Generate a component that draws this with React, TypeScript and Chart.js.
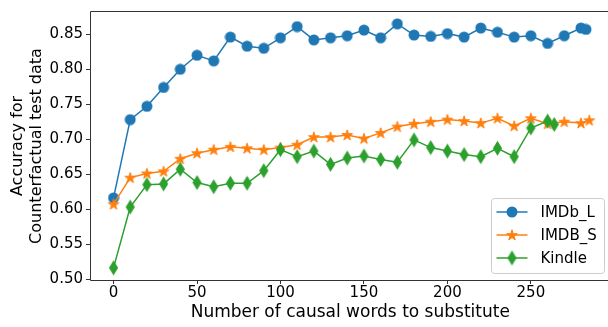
import React, { useEffect, useRef } from 'react';
import { Chart, registerables } from 'chart.js';
Chart.register(...registerables);

const imdbLX = [0, 10, 20, 30, 40, 50, 60, 70, 80, 90, 100, 110, 120, 130, 140, 150, 160, 170, 180, 190, 200, 210, 220, 230, 240, 250, 260, 270, 280, 283];
const imdbL = [0.616, 0.728, 0.747, 0.774, 0.800, 0.820, 0.812, 0.846, 0.833, 0.830, 0.845, 0.861, 0.842, 0.845, 0.848, 0.856, 0.845, 0.865, 0.849, 0.847, 0.851, 0.846, 0.859, 0.853, 0.846, 0.848, 0.837, 0.848, 0.859, 0.857];

const imdbSX = [0, 10, 20, 30, 40, 50, 60, 70, 80, 90, 100, 110, 120, 130, 140, 150, 160, 170, 180, 190, 200, 210, 220, 230, 240, 250, 260, 270, 280, 285];
const imdbS = [0.607, 0.645, 0.651, 0.654, 0.672, 0.680, 0.685, 0.689, 0.687, 0.685, 0.688, 0.692, 0.703, 0.703, 0.706, 0.701, 0.709, 0.718, 0.722, 0.725, 0.728, 0.726, 0.723, 0.730, 0.719, 0.730, 0.722, 0.725, 0.723, 0.727];

const kindleX = [0, 10, 20, 30, 40, 50, 60, 70, 80, 90, 100, 110, 120, 130, 140, 150, 160, 170, 180, 190, 200, 210, 220, 230, 240, 250, 260, 264];
const kindle = [0.516, 0.603, 0.635, 0.636, 0.657, 0.638, 0.632, 0.637, 0.637, 0.655, 0.685, 0.675, 0.683, 0.664, 0.673, 0.676, 0.671, 0.667, 0.699, 0.688, 0.683, 0.678, 0.675, 0.687, 0.675, 0.716, 0.726, 0.721];

const seriesNames = ['IMDb_L', 'IMDB_S', 'Kindle'];
const xTicks = [0, 50, 100, 150, 200, 250];
const yTicks = [0.5, 0.55, 0.6, 0.65, 0.7, 0.75, 0.8, 0.85];

const BLUE = '#1f77b4';
const ORANGE = '#ff7f0e';
const GREEN = '#2ca02c';
const FONT = 'DejaVu Sans';

function makeCircle(color: string) {
  const c = document.createElement('canvas');
  c.width = 12; c.height = 12;
  const g = c.getContext('2d')!;
  g.fillStyle = color;
  g.beginPath();
  g.arc(6, 6, 5.5, 0, Math.PI * 2);
  g.fill();
  return c;
}

function makeStar(color: string) {
  const c = document.createElement('canvas');
  c.width = 14; c.height = 14;
  const g = c.getContext('2d')!;
  const cx = 7, cy = 7.4, R = 5.6, r = R * 0.382;
  g.beginPath();
  for (let i = 0; i < 10; i++) {
    const rad = i % 2 === 0 ? R : r;
    const ang = -Math.PI / 2 + (i * Math.PI) / 5;
    const px = cx + rad * Math.cos(ang);
    const py = cy + rad * Math.sin(ang);
    if (i === 0) g.moveTo(px, py); else g.lineTo(px, py);
  }
  g.closePath();
  g.fillStyle = color;
  g.strokeStyle = color;
  g.lineWidth = 1;
  g.lineJoin = 'miter';
  g.fill();
  g.stroke();
  return c;
}

function makeDiamond(color: string) {
  const c = document.createElement('canvas');
  c.width = 11; c.height = 17;
  const g = c.getContext('2d')!;
  const cx = 5.5, cy = 8.5, hw = 4.6, hh = 7.5;
  g.beginPath();
  g.moveTo(cx, cy - hh);
  g.lineTo(cx + hw, cy);
  g.lineTo(cx, cy + hh);
  g.lineTo(cx - hw, cy);
  g.closePath();
  g.fillStyle = color;
  g.fill();
  return c;
}

export default function App() {
  const ref = useRef<HTMLCanvasElement | null>(null);

  useEffect(() => {
    if (!ref.current) return;
    const markers = [makeCircle(BLUE), makeStar(ORANGE), makeDiamond(GREEN)];
    const colors = [BLUE, ORANGE, GREEN];

    const framePlugin = {
      id: 'frameLegend',
      afterDraw(chart: any) {
        const { ctx, chartArea: a } = chart;
        ctx.save();
        ctx.strokeStyle = '#333';
        ctx.lineWidth = 1;
        const L = Math.round(a.left) + 0.5;
        const T = Math.round(a.top) - 0.5;
        const R = Math.round(a.right) + 0.5;
        const B = Math.round(a.bottom) + 0.5;
        ctx.beginPath();
        ctx.moveTo(L, B); ctx.lineTo(L, T); ctx.lineTo(R, T); ctx.lineTo(R, B); ctx.lineTo(L, B);
        ctx.stroke();

        // legend
        const bw = 113, bh = 75;
        const bx = Math.round(a.right) - 7 - bw + 0.5;
        const by = Math.round(a.bottom) - 7 - bh + 0.5;
        const rr = 3;
        ctx.beginPath();
        ctx.moveTo(bx + rr, by);
        ctx.lineTo(bx + bw - rr, by);
        ctx.arcTo(bx + bw, by, bx + bw, by + rr, rr);
        ctx.lineTo(bx + bw, by + bh - rr);
        ctx.arcTo(bx + bw, by + bh, bx + bw - rr, by + bh, rr);
        ctx.lineTo(bx + rr, by + bh);
        ctx.arcTo(bx, by + bh, bx, by + bh - rr, rr);
        ctx.lineTo(bx, by + rr);
        ctx.arcTo(bx, by, bx + rr, by, rr);
        ctx.closePath();
        ctx.fillStyle = 'rgba(255,255,255,0.8)';
        ctx.fill();
        ctx.strokeStyle = '#cccccc';
        ctx.stroke();

        const rowsY = [by + 13.5, by + 36.5, by + 59.5];
        ctx.font = `15px "${FONT}"`;
        ctx.textBaseline = 'middle';
        ctx.textAlign = 'left';
        for (let i = 0; i < 3; i++) {
          const y = rowsY[i];
          ctx.strokeStyle = colors[i];
          ctx.lineWidth = 1.5;
          ctx.beginPath();
          ctx.moveTo(bx + 5, y);
          ctx.lineTo(bx + 36, y);
          ctx.stroke();
          const m = markers[i];
          ctx.drawImage(m, bx + 20.5 - m.width / 2, y - m.height / 2);
          ctx.fillStyle = '#000';
          ctx.fillText(seriesNames[i], bx + 49, y + 1);
        }
        ctx.restore();
      },
    };

    const toPts = (xs: number[], ys: number[]) => xs.map((x, i) => ({ x, y: ys[i] }));

    const chart = new Chart(ref.current, {
      type: 'line',
      data: {
        datasets: [
          { label: seriesNames[0], data: toPts(imdbLX, imdbL), borderColor: BLUE, backgroundColor: BLUE, borderWidth: 1.5, pointStyle: markers[0] as any, order: 3, tension: 0 },
          { label: seriesNames[1], data: toPts(imdbSX, imdbS), borderColor: ORANGE, backgroundColor: ORANGE, borderWidth: 1.5, pointStyle: markers[1] as any, order: 2, tension: 0 },
          { label: seriesNames[2], data: toPts(kindleX, kindle), borderColor: GREEN, backgroundColor: GREEN, borderWidth: 1.5, pointStyle: markers[2] as any, order: 1, tension: 0 },
        ],
      },
      options: {
        animation: false,
        responsive: false,
        events: [],
        layout: { padding: { top: 4, right: 4, left: 0, bottom: 0 } },
        plugins: { legend: { display: false }, tooltip: { enabled: false } },
        scales: {
          x: {
            type: 'linear',
            min: -14.1,
            max: 297.7,
            afterBuildTicks: (s: any) => { s.ticks = xTicks.map((v) => ({ value: v })); },
            afterFit: (s: any) => { s.height = 47; },
            ticks: { font: { size: 15, family: FONT }, color: '#000', padding: 0, maxRotation: 0, callback: (v: any) => String(v) },
            grid: { drawOnChartArea: false, drawTicks: true, tickLength: 4, color: '#333' },
            border: { display: false },
            title: { display: true, text: 'Number of causal words to substitute', font: { size: 17, family: FONT }, color: '#000', padding: { top: 0, bottom: 4 } },
          },
          y: {
            type: 'linear',
            min: 0.4986,
            max: 0.8819,
            afterBuildTicks: (s: any) => { s.ticks = yTicks.map((v) => ({ value: v })); },
            afterFit: (s: any) => { s.width = 90; },
            ticks: { font: { size: 15, family: FONT }, color: '#000', padding: 3, callback: (v: any) => Number(v).toFixed(2) },
            grid: { drawOnChartArea: false, drawTicks: true, tickLength: 4, color: '#333' },
            border: { display: false },
            title: { display: true, text: ['Accuracy for', 'Counterfactual test data'], font: { size: 16, family: FONT, lineHeight: 1.2 }, color: '#000', padding: { top: 8, bottom: 0 } },
          },
        },
      },
      plugins: [framePlugin],
    });
    return () => chart.destroy();
  }, []);

  return (
    <div style={{ position: 'absolute', left: 0, top: 0, width: 608, height: 327, overflow: 'hidden', background: '#fff' }}>
      <canvas ref={ref} width={616} height={327} style={{ width: 616, height: 327, display: 'block' }} />
    </div>
  );
}
